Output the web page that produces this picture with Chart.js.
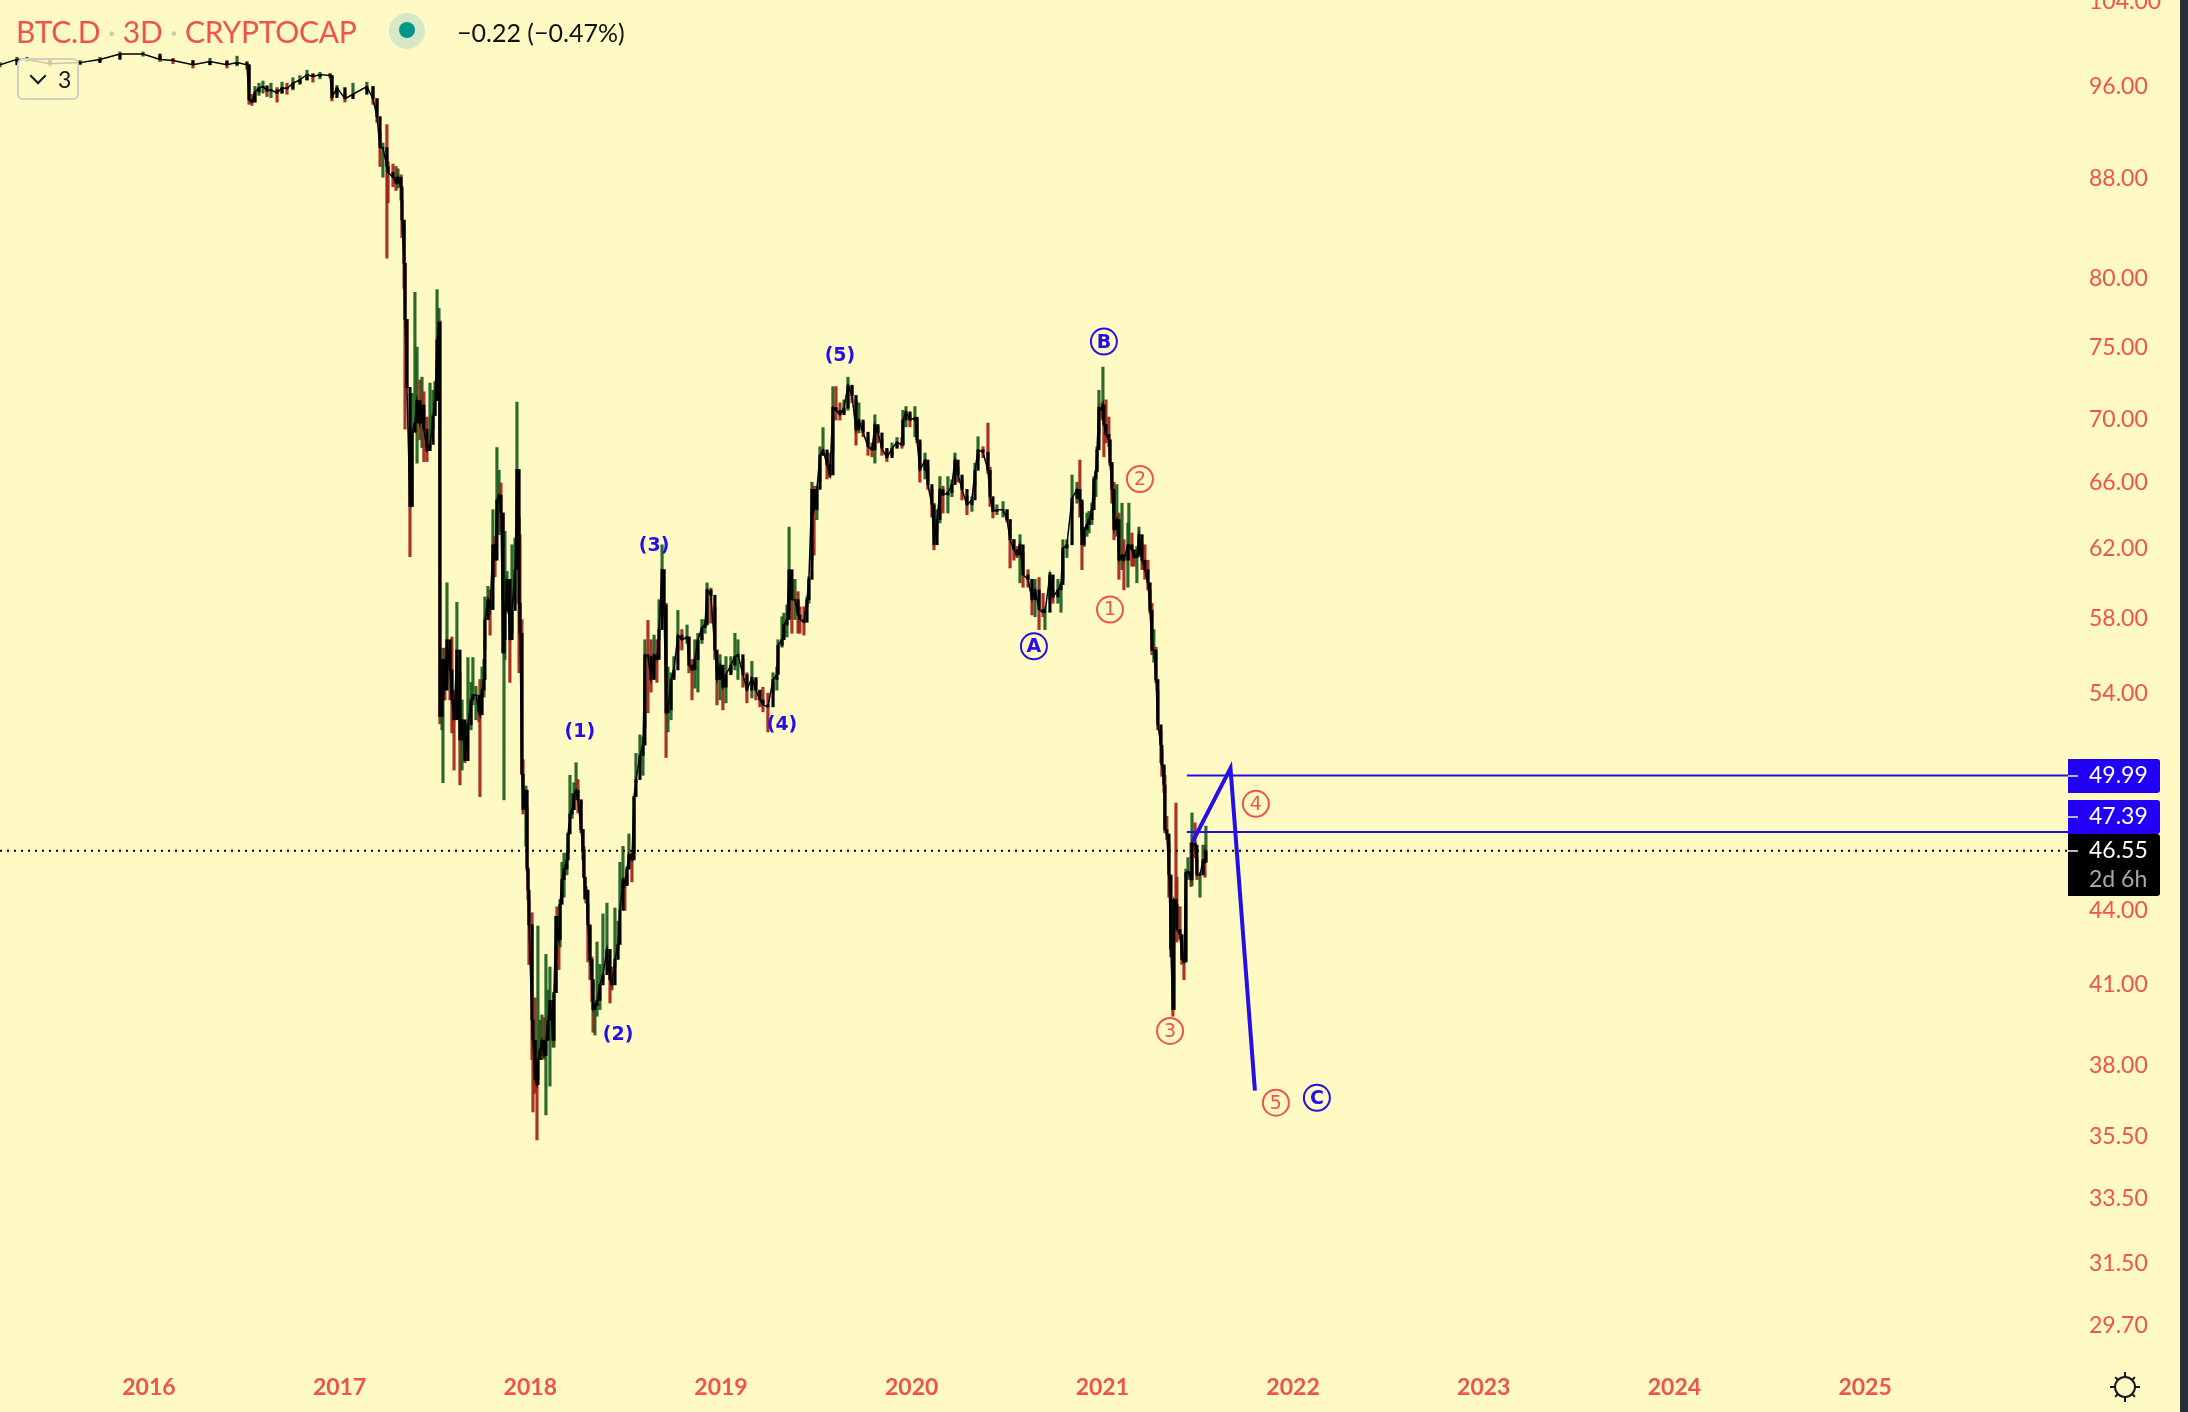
<!DOCTYPE html>
<html>
<head>
<meta charset="utf-8">
<title>BTC.D 3D</title>
<script src="https://cdn.jsdelivr.net/npm/chart.js@4"></script>
<style>
  html, body { margin: 0; padding: 0; background: #2a2e39; }
  #wrap { position: relative; width: 2180px; height: 1412px; background: #fff9c4; overflow: hidden; }
  canvas { position: absolute; left: 0; top: 0; }
  .head { position: absolute; white-space: nowrap; font-family: Lato, sans-serif; }
  #symbol { left: 16px; top: 13px; font-size: 30px; color: #ef5350; letter-spacing: -.25px; }
  #symbol span { color: #c9c9b4; }
  #change { left: 457px; top: 17px; font-size: 25px; color: #111; }
  #dot { left: 389px; top: 13px; width: 36px; height: 36px; border-radius: 50%; background: #d6e8c8; }
  #dot:after { content: ''; position: absolute; left: 10px; top: 9px; width: 16px; height: 16px; border-radius: 50%; background: #009688; }
  #collapse { left: 17px; top: 58px; width: 58px; height: 38px; border: 2px solid #cfcfc4; border-radius: 6px; background: rgba(255,249,196,.8); font-size: 23px; color: #131722; }
  #collapse i { position: absolute; left: 13px; top: 10px; width: 10px; height: 10px; border-right: 2px solid #131722; border-bottom: 2px solid #131722; transform: rotate(45deg); }
  #collapse b { position: absolute; left: 39px; top: 5px; font-weight: 400; }
</style>
</head>
<body>
<div id="wrap">
  <canvas id="chart" width="2180" height="1412"></canvas>
  <div class="head" id="symbol">BTC.D <span>·</span> 3D <span>·</span> CRYPTOCAP</div>
  <div class="head" id="dot"></div>
  <div class="head" id="change">−0.22 (−0.47%)</div>
  <div class="head" id="collapse"><i></i><b>3</b></div>
</div>
<script>
// candle dates as decimal years
const candleDates = [
  2015.219,2015.308,2015.361,2015.481,2015.639,2015.743,2015.848,2015.969,2016.058,2016.126,
  2016.231,2016.320,2016.409,2016.462,2016.514,2016.525,2016.540,2016.556,2016.577,2016.598,
  2016.619,2016.640,2016.672,2016.698,2016.724,2016.755,2016.792,2016.829,2016.860,2016.897,
  2016.950,2016.960,2016.986,2017.028,2017.070,2017.143,2017.175,2017.196,2017.212,2017.227,
  2017.248,2017.254,2017.280,2017.296,2017.306,2017.322,2017.327,2017.338,2017.343,2017.353,
  2017.369,2017.380,2017.395,2017.406,2017.421,2017.432,2017.442,2017.458,2017.474,2017.490,
  2017.500,2017.511,2017.521,2017.526,2017.537,2017.542,2017.552,2017.563,2017.579,2017.589,
  2017.600,2017.615,2017.631,2017.642,2017.657,2017.673,2017.689,2017.699,2017.715,2017.731,
  2017.736,2017.747,2017.757,2017.762,2017.778,2017.789,2017.804,2017.815,2017.825,2017.836,
  2017.846,2017.857,2017.862,2017.867,2017.878,2017.893,2017.904,2017.920,2017.930,2017.941,
  2017.946,2017.956,2017.962,2017.977,2017.983,2017.988,2017.993,2018.009,2018.014,2018.025,
  2018.035,2018.040,2018.051,2018.061,2018.072,2018.082,2018.093,2018.103,2018.119,2018.124,
  2018.135,2018.140,2018.150,2018.156,2018.166,2018.177,2018.192,2018.198,2018.208,2018.219,
  2018.229,2018.240,2018.250,2018.266,2018.276,2018.281,2018.287,2018.292,2018.302,2018.313,
  2018.323,2018.329,2018.339,2018.350,2018.365,2018.381,2018.402,2018.418,2018.428,2018.444,
  2018.460,2018.470,2018.486,2018.496,2018.507,2018.517,2018.533,2018.544,2018.554,2018.575,
  2018.591,2018.601,2018.617,2018.633,2018.649,2018.664,2018.675,2018.691,2018.701,2018.712,
  2018.722,2018.738,2018.753,2018.774,2018.795,2018.822,2018.832,2018.848,2018.863,2018.879,
  2018.900,2018.916,2018.927,2018.947,2018.968,2018.979,2018.995,2019.010,2019.026,2019.052,
  2019.073,2019.089,2019.115,2019.136,2019.162,2019.183,2019.204,2019.220,2019.246,2019.273,
  2019.293,2019.299,2019.320,2019.330,2019.346,2019.357,2019.372,2019.388,2019.404,2019.414,
  2019.435,2019.451,2019.461,2019.477,2019.488,2019.503,2019.519,2019.535,2019.556,2019.571,
  2019.587,2019.603,2019.624,2019.645,2019.666,2019.687,2019.708,2019.723,2019.745,2019.771,
  2019.792,2019.807,2019.823,2019.844,2019.870,2019.897,2019.923,2019.949,2019.954,2019.970,
  2019.991,2020.017,2020.028,2020.043,2020.070,2020.085,2020.106,2020.117,2020.133,2020.148,
  2020.164,2020.190,2020.211,2020.227,2020.243,2020.264,2020.290,2020.316,2020.332,2020.348,
  2020.374,2020.400,2020.411,2020.426,2020.447,2020.479,2020.500,2020.516,2020.536,2020.552,
  2020.568,2020.584,2020.610,2020.631,2020.647,2020.668,2020.689,2020.699,2020.725,2020.741,
  2020.767,2020.783,2020.793,2020.814,2020.841,2020.867,2020.882,2020.893,2020.904,2020.919,
  2020.930,2020.945,2020.956,2020.966,2020.972,2020.982,2020.998,2021.003,2021.008,2021.019,
  2021.034,2021.040,2021.050,2021.061,2021.076,2021.087,2021.103,2021.113,2021.134,2021.139,
  2021.155,2021.166,2021.181,2021.192,2021.208,2021.223,2021.239,2021.250,2021.260,2021.270,
  2021.281,2021.291,2021.307,2021.312,2021.323,2021.328,2021.338,2021.349,2021.359,2021.370,
  2021.375,2021.386,2021.391,2021.407,2021.417,2021.428,2021.438,2021.449,2021.465,2021.470,
  2021.486,2021.496,2021.512,2021.528,2021.538,2021.543
];
const closes = [
  98.0,98.5,98.5,98.1,98.2,98.5,99.0,99.0,98.5,98.4,
  98.0,98.3,98.0,98.2,98.0,94.8,94.6,95.5,95.9,96.0,
  95.6,95.7,95.4,95.9,95.8,96.3,96.6,97.1,96.9,97.1,
  97.0,95.0,95.9,94.9,95.3,96.0,94.9,93.3,90.6,90.6,
  89.0,88.5,88.1,87.6,88.1,87.3,84.6,81.2,77.0,72.2,
  64.5,69.2,69.8,71.3,69.8,71.0,69.4,68.0,68.4,70.3,
  71.3,75.5,76.8,52.85,53.7,55.8,54.2,56.85,55.25,53.7,
  52.7,56.3,51.7,52.7,50.7,52.45,53.7,53.95,53.95,53.1,
  52.95,54.2,54.75,57.95,59.05,58.5,62.2,61.3,64.9,65.2,
  64.1,56.15,56.85,58.45,60.2,56.85,58.45,60.75,66.8,58.85,
  57.2,50.05,48.4,49.3,45.8,44.85,43.4,39.65,38.9,37.5,
  37.3,38.2,38.55,38.9,38.35,38.9,39.65,40.4,38.9,40.7,
  43.75,43.2,42.8,44.25,45.3,45.75,46.15,47.3,48.2,48.4,
  49.1,49.3,48.85,47.5,46.6,45.4,44.5,44.85,43.4,42.0,
  41.2,40.05,40.2,40.4,41.0,41.4,42.4,41.2,41.0,42.0,
  42.6,44.0,45.3,45.05,45.75,46.4,46.15,49.0,49.8,50.95,
  51.45,56.05,55.95,54.75,56.05,55.8,57.4,60.75,58.75,53.05,
  53.2,54.75,55.25,57.1,56.85,57.0,55.5,55.25,55.8,56.85,
  57.5,57.65,59.6,59.3,56.3,54.75,55.5,54.35,55.0,55.5,
  55.95,56.05,55.0,54.2,54.85,54.2,53.7,53.45,53.35,54.75,
  55.0,56.55,56.85,57.65,57.95,60.75,59.05,59.05,58.2,57.95,
  57.8,59.05,60.2,65.55,64.3,65.55,67.7,68.05,67.1,66.45,
  70.85,70.65,70.35,70.8,72.35,71.65,69.35,70.0,69.2,68.25,
  68.05,69.7,69.15,68.15,67.55,68.15,68.55,68.35,70.0,70.55,
  70.0,70.15,68.7,66.75,67.4,65.85,64.6,62.2,63.7,65.55,
  65.2,65.35,65.85,67.4,66.45,65.55,64.6,64.9,66.75,68.05,
  67.9,66.75,65.1,64.2,64.3,64.3,63.7,62.5,61.9,61.6,
  62.2,60.45,60.2,59.05,59.6,58.5,58.35,58.35,60.45,59.2,
  59.6,59.9,62.0,62.2,65.0,65.55,64.9,62.2,63.1,63.4,
  63.7,64.3,66.2,66.65,68.05,70.85,70.65,71.0,69.7,69.05,
  68.7,67.25,65.55,63.1,63.7,61.3,61.6,61.3,62.2,62.2,
  61.9,61.45,61.6,62.8,61.3,60.75,60.0,58.45,56.3,56.3,
  54.75,52.45,51.45,50.5,49.55,47.5,47.3,45.5,42.4,40.05,
  44.45,44.25,43.2,43.0,42.0,41.9,45.6,45.65,45.3,46.9,
  46.8,45.5,45.5,46.15,46.05,46.55
];
const highs = [
  98.2,98.7,98.7,98.3,98.4,98.7,99.2,99.2,98.8,98.6,
  98.3,98.6,98.4,98.8,98.3,98.0,95.3,96.0,96.3,96.5,
  96.1,96.3,95.9,96.4,96.3,96.8,97.0,97.5,97.2,97.3,
  97.2,97.0,96.1,95.5,96.3,96.4,96.0,94.9,91.9,91.0,
  92.6,89.4,89.2,89.0,88.8,88.3,86.2,84.5,81.2,77.0,
  69.5,71.8,79.0,75.0,72.7,72.9,71.9,70.2,72.5,72.0,
  72.6,79.2,77.8,76.9,55.8,56.4,56.4,60.0,55.9,57.0,
  54.2,58.9,55.1,53.7,52.55,55.9,54.6,55.9,54.4,53.55,
  54.75,55.4,55.8,59.2,59.8,59.6,64.3,62.7,68.2,66.75,
  65.95,64.1,57.9,63.0,60.65,59.05,62.2,62.6,71.2,63.85,
  62.8,57.95,50.75,49.5,48.5,45.7,44.45,43.9,39.65,40.5,
  38.9,43.35,39.65,39.85,39.75,42.2,40.8,41.7,40.15,40.7,
  43.75,44.15,43.35,44.45,46.05,46.45,46.45,47.35,50.0,49.15,
  49.65,50.6,49.8,48.85,47.5,46.75,45.4,45.0,44.25,43.35,
  42.1,41.2,40.3,42.7,41.8,43.85,44.3,41.7,41.7,44.1,
  43.55,46.05,46.75,45.4,45.85,47.3,46.45,49.0,51.05,51.95,
  51.85,56.85,57.9,56.85,57.1,56.85,59.05,62.2,60.75,58.85,
  55.4,55.1,55.95,58.45,57.4,57.65,57.0,55.8,56.85,57.2,
  57.95,57.95,60.0,59.7,58.65,55.8,56.05,55.1,55.95,55.95,
  57.2,56.85,55.8,55.1,55.7,54.75,54.2,54.35,54.05,55.1,
  55.4,56.85,58.1,58.3,58.75,63.25,60.2,60.2,59.5,58.65,
  58.65,59.2,60.35,66.0,65.75,65.75,68.25,69.5,67.85,67.85,
  72.25,72.25,71.15,71.35,72.9,72.25,71.35,71.15,69.85,68.9,
  68.5,70.35,69.55,68.7,68.05,68.5,68.85,68.85,70.65,70.9,
  70.35,70.9,70.2,68.5,67.85,66.95,65.55,64.7,64.3,66.35,
  65.75,66.35,66.15,67.85,66.95,66.15,65.1,65.1,67.2,68.9,
  68.25,69.8,66.95,64.5,64.6,64.8,64.3,63.7,62.5,62.1,
  62.8,61.75,60.75,60.2,60.2,60.3,59.4,58.65,60.6,59.6,
  60.2,60.0,62.5,62.5,66.45,66.0,67.4,64.7,63.25,64.1,
  64.2,64.7,66.35,66.75,68.25,72.0,71.15,73.6,70.2,71.35,
  70.2,68.7,67.2,66.0,65.85,64.1,64.7,62.5,63.5,64.7,
  62.9,61.9,62.1,63.25,62.3,62.2,61.3,59.6,58.85,57.4,
  56.45,54.2,52.2,51.2,50.4,50.0,48.1,46.9,45.45,41.7,
  44.45,48.7,45.4,44.15,42.7,42.3,45.75,46.25,46.9,48.25,
  47.8,46.15,45.6,46.8,46.8,47.65
];
const lows = [
  97.8,98.3,98.3,97.9,98.0,98.3,98.8,98.8,98.3,98.1,
  97.7,98.0,97.7,97.9,97.6,94.4,94.3,94.6,95.2,95.4,
  95.1,95.0,94.6,95.4,95.3,95.7,96.2,96.6,96.4,96.7,
  96.8,94.7,95.3,94.6,95.1,95.7,94.4,92.8,89.0,88.1,
  81.6,86.0,87.3,87.0,87.2,86.2,83.2,79.3,69.4,72.2,
  61.5,64.5,69.2,67.2,68.7,68.2,67.3,67.3,68.2,69.4,
  70.3,71.3,75.1,52.5,52.2,49.65,53.7,54.6,53.7,52.05,
  50.25,54.6,49.55,50.25,50.6,52.2,52.2,53.45,52.7,52.6,
  49.0,53.85,53.85,56.3,57.95,57.1,60.05,60.35,63.1,62.8,
  63.0,56.15,48.85,55.8,58.3,54.6,57.2,58.85,63.85,55.1,
  56.85,50.05,48.2,46.75,45.7,44.45,41.8,38.2,36.35,37.0,
  35.4,37.5,38.25,38.2,38.25,36.25,39.05,37.25,38.65,38.65,
  40.7,42.1,41.6,42.5,44.55,44.55,45.5,46.45,48.0,48.0,
  48.4,48.85,48.25,47.35,46.15,45.4,44.45,44.3,41.9,41.2,
  40.35,39.2,39.1,39.8,40.05,41.2,42.1,40.3,40.8,41.7,
  42.4,44.0,44.85,44.0,45.05,45.85,45.2,46.45,49.65,50.6,
  50.0,52.3,53.05,54.1,55.1,54.6,56.85,58.1,58.1,50.85,
  52.1,52.7,54.9,56.3,56.3,56.65,55.1,53.7,54.3,54.1,
  56.65,57.2,57.75,57.75,55.8,53.45,53.7,53.2,53.55,55.1,
  55.25,54.75,54.35,53.55,53.8,53.7,53.35,53.1,52.1,54.05,
  54.2,55.1,56.45,57.0,57.0,58.45,57.2,57.95,57.2,57.2,
  57.1,58.65,58.85,61.3,61.6,63.7,66.0,67.7,66.2,66.3,
  67.85,70.0,70.0,70.5,70.65,71.15,68.35,69.15,68.9,67.7,
  67.6,67.2,68.5,67.7,67.3,67.7,68.25,68.15,68.35,69.55,
  69.55,68.9,68.5,66.0,66.2,65.55,63.85,61.9,63.0,63.5,
  64.1,64.1,65.1,66.45,66.0,64.9,64.0,64.2,65.75,67.4,
  67.55,66.55,64.5,63.8,64.0,63.85,63.55,60.85,61.3,61.45,
  60.0,59.75,59.75,58.2,58.1,57.4,58.1,57.4,59.05,58.85,
  58.85,58.35,60.2,61.45,64.3,64.7,63.85,60.75,62.1,62.7,
  62.9,63.4,64.9,65.1,66.75,69.15,70.0,70.2,67.6,68.5,
  68.25,67.05,64.7,62.5,62.7,60.2,60.75,59.6,59.75,61.3,
  60.95,60.95,60.0,61.5,60.75,60.2,59.6,58.3,56.05,55.65,
  54.6,52.2,50.6,49.95,49.2,47.35,47.05,44.55,42.1,39.8,
  40.05,44.15,42.7,42.8,41.8,41.2,41.9,45.3,45.0,45.05,
  46.25,45.3,44.55,45.7,45.4,46.05
];

// projected wave path and the two drawn levels
const waveDates = [2021.473, 2021.672, 2021.80];
const waveValues = [46.95, 50.34, 37.09];
const levelStart = 2021.443;
const upperLevel = 49.99;
const lowerLevel = 47.39;
const lastPrice = 46.55;

const yearTicks = [2016, 2017, 2018, 2019, 2020, 2021, 2022, 2023, 2024, 2025];
const priceTicks = [104, 96, 88, 80, 75, 70, 66, 62, 58, 54, 44, 41, 38, 35.5, 33.5, 31.5, 29.7];

const waveLabels = ['(1)', '(2)', '(3)', '(4)', '(5)'];
const waveLabelDates = [2018.260, 2018.460, 2018.649, 2019.320, 2019.624];
const waveLabelValues = [52.1, 39.1, 62.1, 52.45, 74.4];
const circleLabels = ['A', 'B', 'C', '1', '2', '3', '4', '5'];
const circleLabelDates = [2020.641, 2021.008, 2022.125, 2021.040, 2021.197, 2021.355, 2021.805, 2021.910];
const circleLabelValues = [56.5, 75.4, 36.84, 58.5, 66.2, 39.25, 48.67, 36.67];

const RED = '#ef5350';
const BLUE = '#2410e6';
const X_MIN = 2015.219, X_MAX = 2026.064;
const Y_MIN = 28.74, Y_MAX = 104.2;

const opens = closes.map((c, i) => i ? closes[i - 1] : c);
const wickColors = closes.map((c, i) => c >= opens[i] ? 'rgba(20,90,25,0.9)' : 'rgba(160,30,20,0.9)');

const points = (xs, ys) => xs.map((x, i) => ({ x: x, y: ys[i] }));

// labels, price tags and the corner icon
const overlay = {
  id: 'overlay',
  afterDraw(chart) {
    const ctx = chart.ctx, xs = chart.scales.x, ys = chart.scales.y;
    ctx.save();
    ctx.textAlign = 'center';
    ctx.textBaseline = 'middle';

    ctx.font = 'bold 19px "DejaVu Sans"';
    ctx.fillStyle = BLUE;
    waveLabels.forEach((t, i) => {
      ctx.fillText(t, xs.getPixelForValue(waveLabelDates[i]), ys.getPixelForValue(waveLabelValues[i]));
    });

    circleLabels.forEach((t, i) => {
      const x = xs.getPixelForValue(circleLabelDates[i]), y = ys.getPixelForValue(circleLabelValues[i]);
      const col = i < 3 ? BLUE : RED;
      ctx.strokeStyle = col;
      ctx.fillStyle = col;
      ctx.lineWidth = 2;
      ctx.beginPath();
      ctx.arc(x, y, 13, 0, Math.PI * 2);
      ctx.stroke();
      ctx.font = (i < 3 ? 'bold ' : '') + '19px "DejaVu Sans"';
      ctx.fillText(t, x, y + 1);
    });

    // tags on the price axis
    const tag = (top, h, color) => {
      ctx.fillStyle = color;
      ctx.beginPath();
      ctx.roundRect(2068, top, 92, h, [0, 3, 3, 0]);
      ctx.fill();
    };
    tag(759, 34, '#2200f5');
    tag(800, 34, '#2200f5');
    tag(834, 62, '#000');
    ctx.textAlign = 'left';
    ctx.font = '23px Lato';
    ctx.fillStyle = '#fff';
    ctx.fillText(upperLevel.toFixed(2), 2089, 776);
    ctx.fillText(lowerLevel.toFixed(2), 2089, 817);
    ctx.fillText(lastPrice.toFixed(2), 2089, 851);
    ctx.fillStyle = '#a8a8a8';
    ctx.fillText('2d 6h', 2089, 880);
    ctx.strokeStyle = '#b8b8c8';
    ctx.lineWidth = 2;
    [776, 817, 851].forEach(y => {
      ctx.beginPath();
      ctx.moveTo(2068, y);
      ctx.lineTo(2078, y);
      ctx.stroke();
    });

    // settings sun
    const cx = 2125, cy = 1387;
    ctx.strokeStyle = '#131722';
    ctx.lineWidth = 2;
    ctx.beginPath();
    ctx.arc(cx, cy, 10, 0, Math.PI * 2);
    ctx.stroke();
    for (let a = 0; a < 8; a++) {
      const r = a * Math.PI / 4, c = Math.cos(r), s = Math.sin(r);
      const outer = a % 2 ? 14 : 15;
      ctx.beginPath();
      ctx.moveTo(cx + c * 10, cy + s * 10);
      ctx.lineTo(cx + c * outer, cy + s * outer);
      ctx.stroke();
    }
    ctx.restore();
  }
};

new Chart(document.getElementById('chart').getContext('2d'), {
  type: 'bar',
  plugins: [overlay],
  data: {
    datasets: [
      {
        label: 'High-low',
        data: candleDates.map((x, i) => ({ x: x, y: [lows[i], highs[i]] })),
        backgroundColor: wickColors,
        barThickness: 2.5,
        grouped: false,
        order: 6
      },
      {
        label: 'Open-close',
        data: candleDates.map((x, i) => ({ x: x, y: [Math.min(opens[i], closes[i]), Math.max(opens[i], closes[i])] })),
        backgroundColor: '#000',
        barThickness: 2.5,
        grouped: false,
        order: 5
      },
      {
        type: 'line',
        label: 'Close',
        data: points(candleDates, closes),
        borderColor: '#000',
        borderWidth: 1.5,
        pointRadius: 0,
        tension: 0,
        order: 4
      },
      {
        type: 'line',
        label: 'Last price',
        data: points([X_MIN, X_MAX], [lastPrice, lastPrice]),
        borderColor: '#000',
        borderWidth: 2,
        borderDash: [2, 5],
        pointRadius: 0,
        order: 3
      },
      {
        type: 'line',
        label: 'Upper level',
        data: points([levelStart, X_MAX], [upperLevel, upperLevel]),
        borderColor: BLUE,
        borderWidth: 2,
        pointRadius: 0,
        order: 2
      },
      {
        type: 'line',
        label: 'Lower level',
        data: points([levelStart, X_MAX], [lowerLevel, lowerLevel]),
        borderColor: BLUE,
        borderWidth: 2,
        pointRadius: 0,
        order: 1
      },
      {
        type: 'line',
        label: 'Wave',
        data: points(waveDates, waveValues),
        borderColor: BLUE,
        borderWidth: 4,
        borderJoinStyle: 'miter',
        pointRadius: 0,
        tension: 0,
        order: 0
      }
    ]
  },
  options: {
    responsive: false,
    devicePixelRatio: 1,
    animation: false,
    layout: { padding: 0, autoPadding: false },
    plugins: {
      legend: { display: false },
      tooltip: { enabled: false }
    },
    scales: {
      x: {
        type: 'linear',
        min: X_MIN,
        max: X_MAX,
        offset: false,
        grid: { display: false, drawTicks: false },
        border: { display: false },
        afterBuildTicks: axis => { axis.ticks = yearTicks.map(v => ({ value: v })); },
        afterFit: axis => { axis.height = 52; },
        ticks: {
          autoSkip: false,
          maxRotation: 0,
          padding: 14,
          color: RED,
          font: { family: 'Lato', size: 23, weight: 'bold' },
          callback: v => String(v)
        }
      },
      y: {
        type: 'logarithmic',
        position: 'right',
        min: Y_MIN,
        max: Y_MAX,
        grid: { display: false, drawTicks: false },
        border: { display: false },
        afterBuildTicks: axis => { axis.ticks = priceTicks.map(v => ({ value: v })); },
        // tick padding would otherwise push the plot down from the top edge
        afterFit: axis => { axis.width = 112; axis.paddingTop = 0; axis.paddingBottom = 0; },
        ticks: {
          autoSkip: false,
          padding: 21,
          color: RED,
          font: { family: 'Lato', size: 23 },
          callback: v => Number(v).toFixed(2)
        }
      }
    }
  }
});
</script>
</body>
</html>
